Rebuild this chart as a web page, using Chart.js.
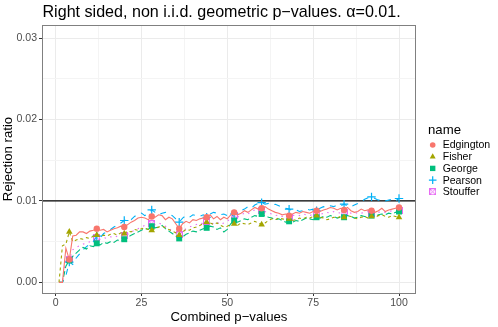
<!DOCTYPE html>
<html><head><meta charset="utf-8">
<script src="https://cdn.jsdelivr.net/npm/chart.js@4/dist/chart.umd.min.js"></script>
<style>html,body{margin:0;padding:0;background:#fff}canvas{display:block}</style>
</head><body>
<canvas id="c" width="498" height="327"></canvas>
<script>
// ---------- data ----------
const combined = [1,2,3,4,5,6,7,8,9,10,11,12,13,14,15,16,17,18,19,20,
  21,22,23,24,25,26,27,28,29,30,31,32,33,34,35,36,37,38,39,40,
  41,42,43,44,45,46,47,48,49,50,51,52,53,54,55,56,57,58,59,60,
  61,62,63,64,65,66,67,68,69,70,71,72,73,74,75,76,77,78,79,80,
  81,82,83,84,85,86,87,88,89,90,91,92,93,94,95,96,97,98,99,100];

const edgington = [0,0,0.0042,0.0028,0.0057,0.0058,0.0062,0.0062,0.0060,0.0063,
  0.0064,0.0066,0.0064,0.0065,0.0062,0.0064,0.0066,0.0067,0.0069,0.0068,
  0.0071,0.0074,0.0076,0.0079,0.0080,0.0079,0.0077,0.0081,0.0080,0.0083,
  0.0082,0.0077,0.0080,0.0078,0.0072,0.0066,0.0072,0.0075,0.0073,0.0077,
  0.0076,0.0078,0.0079,0.0080,0.0083,0.0078,0.0081,0.0077,0.0080,0.0078,
  0.0083,0.0086,0.0083,0.0085,0.0088,0.0086,0.0089,0.0092,0.0090,0.0091,
  0.0093,0.0090,0.0088,0.0086,0.0085,0.0083,0.0084,0.0082,0.0084,0.0086,
  0.0085,0.0087,0.0086,0.0085,0.0087,0.0088,0.0087,0.0089,0.0090,0.0092,
  0.0091,0.0089,0.0091,0.0089,0.0092,0.0088,0.0086,0.0087,0.0090,0.0088,
  0.0089,0.0088,0.0086,0.0088,0.0091,0.0087,0.0089,0.0090,0.0091,0.0092];

const fisher = [0,0.0045,0.0047,0.0062,0.0050,0.0052,0.0054,0.0053,0.0055,0.0054,
  0.0057,0.0058,0.0056,0.0058,0.0057,0.0059,0.0060,0.0058,0.0061,0.0060,
  0.0063,0.0062,0.0065,0.0064,0.0066,0.0067,0.0065,0.0064,0.0066,0.0068,
  0.0069,0.0067,0.0065,0.0063,0.0061,0.0058,0.0062,0.0065,0.0064,0.0067,
  0.0068,0.0070,0.0072,0.0074,0.0073,0.0071,0.0073,0.0070,0.0068,0.0069,
  0.0071,0.0072,0.0070,0.0073,0.0072,0.0071,0.0073,0.0075,0.0073,0.0071,
  0.0073,0.0076,0.0078,0.0077,0.0079,0.0078,0.0077,0.0078,0.0076,0.0077,
  0.0079,0.0078,0.0080,0.0079,0.0081,0.0082,0.0080,0.0079,0.0077,0.0078,
  0.0080,0.0079,0.0081,0.0080,0.0082,0.0081,0.0079,0.0078,0.0080,0.0081,
  0.0079,0.0081,0.0080,0.0082,0.0083,0.0081,0.0080,0.0082,0.0081,0.0080];

const george = [0,0,0.0020,0.0027,0.0032,0.0036,0.0040,0.0043,0.0041,0.0045,
  0.0044,0.0048,0.0046,0.0049,0.0048,0.0050,0.0049,0.0052,0.0051,0.0053,
  0.0055,0.0058,0.0060,0.0062,0.0064,0.0066,0.0065,0.0069,0.0067,0.0068,
  0.0070,0.0066,0.0063,0.0060,0.0057,0.0054,0.0056,0.0059,0.0061,0.0063,
  0.0062,0.0064,0.0066,0.0067,0.0069,0.0068,0.0065,0.0067,0.0062,0.0065,
  0.0072,0.0076,0.0074,0.0076,0.0078,0.0077,0.0080,0.0082,0.0081,0.0084,
  0.0082,0.0080,0.0079,0.0077,0.0078,0.0076,0.0074,0.0075,0.0074,0.0076,
  0.0075,0.0077,0.0079,0.0078,0.0077,0.0080,0.0079,0.0081,0.0080,0.0082,
  0.0081,0.0079,0.0080,0.0080,0.0082,0.0081,0.0079,0.0080,0.0082,0.0081,
  0.0080,0.0082,0.0081,0.0083,0.0084,0.0083,0.0085,0.0084,0.0086,0.0087];

const pearson = [0,0,0.0008,0.0025,0.0022,0.0030,0.0035,0.0040,0.0044,0.0047,
  0.0050,0.0057,0.0055,0.0060,0.0062,0.0065,0.0068,0.0070,0.0073,0.0076,
  0.0078,0.0077,0.0081,0.0084,0.0085,0.0082,0.0085,0.0089,0.0086,0.0083,
  0.0085,0.0086,0.0084,0.0082,0.0078,0.0074,0.0079,0.0082,0.0080,0.0083,
  0.0082,0.0081,0.0083,0.0080,0.0084,0.0086,0.0085,0.0083,0.0084,0.0082,
  0.0080,0.0084,0.0086,0.0088,0.0090,0.0093,0.0091,0.0095,0.0097,0.0098,
  0.0096,0.0097,0.0095,0.0096,0.0094,0.0092,0.0091,0.0090,0.0088,0.0089,
  0.0087,0.0088,0.0090,0.0089,0.0090,0.0088,0.0091,0.0093,0.0092,0.0094,
  0.0093,0.0095,0.0094,0.0096,0.0094,0.0093,0.0095,0.0097,0.0099,0.0102,
  0.0104,0.0105,0.0103,0.0101,0.0102,0.0100,0.0101,0.0102,0.0100,0.0103];

const stouffer = [0,0,0.0030,0.0028,0.0040,0.0043,0.0045,0.0047,0.0048,0.0050,
  0.0052,0.0055,0.0053,0.0055,0.0054,0.0056,0.0055,0.0057,0.0058,0.0057,
  0.0059,0.0062,0.0064,0.0066,0.0068,0.0070,0.0069,0.0072,0.0071,0.0073,
  0.0071,0.0069,0.0066,0.0063,0.0061,0.0059,0.0063,0.0066,0.0068,0.0070,
  0.0071,0.0073,0.0072,0.0075,0.0073,0.0072,0.0074,0.0071,0.0073,0.0075,
  0.0079,0.0082,0.0080,0.0083,0.0085,0.0084,0.0087,0.0089,0.0087,0.0088,
  0.0087,0.0085,0.0084,0.0082,0.0083,0.0081,0.0080,0.0080,0.0082,0.0083,
  0.0082,0.0084,0.0083,0.0082,0.0084,0.0084,0.0083,0.0085,0.0086,0.0085,
  0.0087,0.0086,0.0085,0.0086,0.0087,0.0085,0.0084,0.0086,0.0085,0.0086,
  0.0087,0.0085,0.0084,0.0086,0.0087,0.0086,0.0087,0.0088,0.0087,0.0088];

const seriesNames = ['Edgington','Fisher','George','Pearson','Stouffer'];
const seriesValues = [edgington, fisher, george, pearson, stouffer];
const alphaLevel = 0.01;
const yMajorTicks = [0, 0.01, 0.02, 0.03];
const yMinorTicks = [0.005, 0.015, 0.025];
const xMajorTicks = [0, 25, 50, 75, 100];
const xMinorTicks = [12.5, 37.5, 62.5, 87.5];
const titleText = 'Right sided, non i.i.d. geometric p\u2212values. \u03b1=0.01.';
const xTitle = 'Combined p\u2212values';
const yTitle = 'Rejection ratio';
const legendTitle = 'name';

// ---------- styles ----------
const colors = ['#F8766D','#A3A500','#00BF7D','#00B0F6','#E76BF3'];
const dashes = [[], [3,3], [6,3], [6,6], [1.5,4.5]];
const boxX = (() => {
  const c = document.createElement('canvas'); c.width = 7; c.height = 7;
  const g = c.getContext('2d'); g.strokeStyle = colors[4]; g.lineWidth = 1;
  g.strokeRect(0.5,0.5,6,6); g.beginPath();
  g.moveTo(0.5,0.5); g.lineTo(6.5,6.5); g.moveTo(6.5,0.5); g.lineTo(0.5,6.5); g.stroke();
  return c;
})();
const pStyles = ['circle','triangle','rect','cross', boxX];
const pRadius = [3.2, 3.8, 4.2, 4.2, 3.5];
const pBorder = [0, 0, 0, 1.2, 0];
const FONT = "'Liberation Sans', Arial, Helvetica, sans-serif";

const datasets = seriesNames.map((name, i) => ({
  label: name,
  data: combined.map((x, j) => ({x: x, y: seriesValues[i][j]})),
  borderColor: colors[i], backgroundColor: colors[i],
  borderWidth: 1.1, borderDash: dashes[i], tension: 0, fill: false,
  pointStyle: pStyles[i],
  pointRadius: ctx => (ctx.dataIndex % 8 === 3 ? pRadius[i] : 0),
  pointBorderWidth: pBorder[i], pointBorderColor: colors[i], pointBackgroundColor: colors[i]
}));

const isMajor = (v, majors) => majors.some(m => Math.abs(m - v) < 1e-9);

const decor = {
  id: 'decor',
  beforeDatasetsDraw(chart) {
    const {ctx, chartArea: a, scales} = chart;
    const py = scales.y.getPixelForValue(alphaLevel);
    ctx.save(); ctx.strokeStyle = '#000'; ctx.lineWidth = 1.2;
    ctx.beginPath(); ctx.moveTo(a.left, py); ctx.lineTo(a.right, py); ctx.stroke();
    ctx.restore();
  },
  afterDraw(chart) {
    const {ctx, chartArea: a} = chart;
    ctx.save();
    ctx.strokeStyle = '#808080'; ctx.lineWidth = 1;
    ctx.strokeRect(Math.round(a.left) + 0.5, Math.round(a.top) + 0.5,
      Math.round(a.right - a.left) - 1, Math.round(a.bottom - a.top));
    // title
    ctx.fillStyle = '#000'; ctx.textBaseline = 'alphabetic'; ctx.textAlign = 'left';
    ctx.font = '16.1px ' + FONT;
    ctx.fillText(titleText, a.left + 0.5, 16.8);
    // legend
    ctx.font = '13.2px ' + FONT; ctx.textBaseline = 'middle';
    ctx.fillText(legendTitle, 428, 130.5);
    ctx.font = '10.56px ' + FONT;
    seriesNames.forEach((name, i) => {
      const cy = 145 + i * 11.7;
      ctx.fillStyle = colors[i]; ctx.strokeStyle = colors[i];
      if (typeof pStyles[i] === 'string') {
        ctx.lineWidth = pBorder[i] || 1;
        Chart.helpers.drawPoint(ctx, {pointStyle: pStyles[i], radius: pRadius[i] - 0.4, borderWidth: pBorder[i] || 0, rotation: 0}, 432.7, cy);
      } else {
        ctx.drawImage(pStyles[i], 432.7 - 3.5, cy - 3.5);
      }
      ctx.fillStyle = '#000';
      ctx.fillText(name, 442.7, cy + 0.5);
    });
    ctx.restore();
  }
};

new Chart(document.getElementById('c'), {
  type: 'line',
  data: {datasets},
  options: {
    responsive: false, animation: false, devicePixelRatio: 1,
    layout: {padding: {top: 25, right: 82, left: 0, bottom: 0}},
    plugins: {legend: {display: false}, title: {display: false}, tooltip: {enabled: false}},
    scales: {
      x: {
        type: 'linear', min: -3.95, max: 104.95,
        afterBuildTicks: s => { s.ticks = xMajorTicks.concat(xMinorTicks).sort((p,q)=>p-q).map(v => ({value: v})); },
        afterFit: s => { s.height = 34; },
        ticks: {autoSkip: false, maxRotation: 0, padding: 1, color: '#4D4D4D',
          font: {size: 10.56, family: FONT},
          callback: v => isMajor(v, xMajorTicks) ? String(v) : ''},
        grid: {color: c => isMajor(c.tick.value, xMajorTicks) ? '#EBEBEB' : '#F4F4F4', lineWidth: 1,
          tickLength: 3, tickColor: c => isMajor(c.tick.value, xMajorTicks) ? '#333333' : 'rgba(0,0,0,0)'},
        border: {display: false},
        title: {display: true, text: xTitle, color: '#000', font: {size: 13.2, family: FONT}, padding: {top: 0, bottom: 2}}
      },
      y: {
        type: 'linear', min: -0.0013, max: 0.0316,
        afterBuildTicks: s => { s.ticks = yMajorTicks.concat(yMinorTicks).sort((p,q)=>p-q).map(v => ({value: v})); },
        afterFit: s => { s.width = 42; },
        ticks: {autoSkip: false, padding: 2, color: '#4D4D4D',
          font: {size: 10.56, family: FONT},
          callback: v => isMajor(v, yMajorTicks) ? v.toFixed(2) : ''},
        grid: {color: c => isMajor(c.tick.value, yMajorTicks) ? '#EBEBEB' : '#F4F4F4', lineWidth: 1,
          tickLength: 3, tickColor: c => isMajor(c.tick.value, yMajorTicks) ? '#333333' : 'rgba(0,0,0,0)'},
        border: {display: false},
        title: {display: true, text: yTitle, color: '#000', font: {size: 13.2, family: FONT}, padding: {top: 0, bottom: 0}}
      }
    }
  },
  plugins: [decor]
});
</script>
</body></html>
